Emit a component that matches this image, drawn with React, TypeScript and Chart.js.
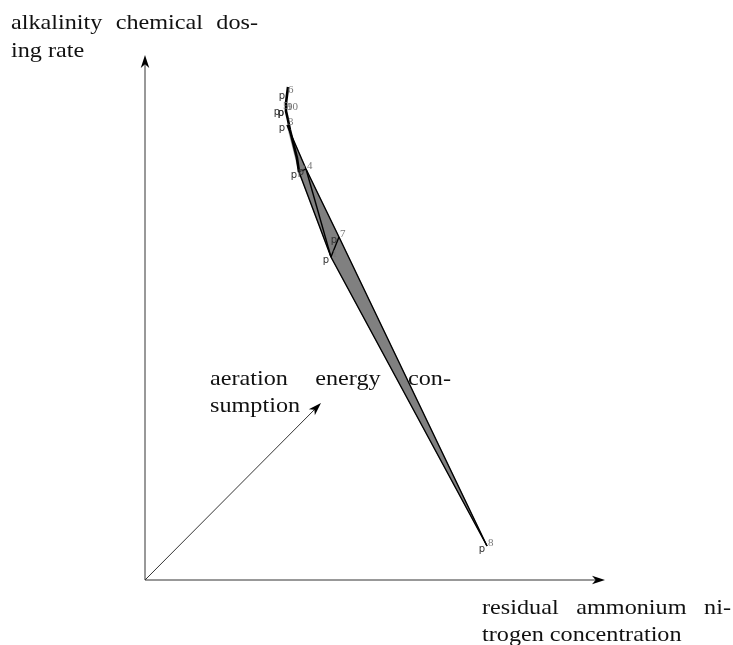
import React, { useEffect, useRef } from "react";
import { Chart, registerables } from "chart.js";

Chart.register(...registerables);

// Pareto points (projected coordinates, 0..100 on each visible axis)
const POINT_LABELS = ["6", "5", "10", "9", "3", "2", "4", "7", "1", "8"];
const POINT_X = [30.87, 29.78, 30.65, 30.65, 30.87, 33.48, 35.0, 42.17, 40.43, 74.35];
const POINT_Y = [92.76, 89.71, 89.52, 89.52, 86.67, 77.71, 78.29, 65.33, 61.52, 6.48];

// thick upper part of the front
const TOP_CURVE_X = [31.09, 30.87, 30.65, 30.65, 31.09, 31.52, 32.17, 33.04, 33.48];
const TOP_CURVE_Y = [93.9, 92.38, 90.86, 89.33, 87.62, 85.71, 83.43, 80.38, 77.71];

// surface facets and edges (by point label)
const FACETS = [
  ["3", "2", "4"],
  ["2", "4", "1"],
  ["4", "1", "7"],
  ["1", "7", "8"],
];
const LEFT_EDGE = ["2", "1", "8"];
const RIGHT_EDGE = ["3", "4", "7", "8"];
const INNER_EDGES = [
  ["2", "4"],
  ["4", "1"],
  ["1", "7"],
];

// axis arrow tips (origin is 0,0)
const AXIS_TIP_X = [100, 0, 38.26];
const AXIS_TIP_Y = [0, 100, 33.71];

const Y_TITLE = [["alkalinity", "chemical", "dos-"], ["ing rate"]];
const Z_TITLE = [["aeration", "energy", "con-"], ["sumption"]];
const X_TITLE = [["residual", "ammonium", "ni-"], ["trogen concentration"]];

const STRETCH = 1.1;

const pt = (label: string) => {
  const i = POINT_LABELS.indexOf(label);
  return { x: POINT_X[i], y: POINT_Y[i] };
};

const lineDs = (data: { x: number; y: number }[], width: number) => ({
  data,
  showLine: true,
  borderColor: "#000",
  borderWidth: width,
  pointRadius: 0,
  fill: false,
  clip: false as any,
  tension: 0,
});

const surfacePlugin = {
  id: "surface",
  beforeDatasetsDraw(chart: any) {
    const { ctx, scales } = chart;
    const sx = (v: number) => scales.x.getPixelForValue(v);
    const sy = (v: number) => scales.y.getPixelForValue(v);
    ctx.save();
    ctx.fillStyle = "#808080";
    ctx.strokeStyle = "#808080";
    ctx.lineWidth = 0.6;
    FACETS.forEach((f) => {
      ctx.beginPath();
      f.forEach((l, k) => {
        const p = pt(l);
        if (k === 0) ctx.moveTo(sx(p.x), sy(p.y));
        else ctx.lineTo(sx(p.x), sy(p.y));
      });
      ctx.closePath();
      ctx.fill();
      ctx.stroke();
    });
    ctx.restore();
  },
};

function arrowHead(ctx: CanvasRenderingContext2D, x0: number, y0: number, x1: number, y1: number) {
  const dx = x1 - x0, dy = y1 - y0;
  const len = Math.hypot(dx, dy);
  const ux = dx / len, uy = dy / len;
  const nx = -uy, ny = ux;
  const L = 13, W = 8.5;
  ctx.beginPath();
  ctx.moveTo(x1, y1);
  ctx.lineTo(x1 - ux * L + nx * W / 2, y1 - uy * L + ny * W / 2);
  ctx.lineTo(x1 - ux * L * 0.72, y1 - uy * L * 0.72);
  ctx.lineTo(x1 - ux * L - nx * W / 2, y1 - uy * L - ny * W / 2);
  ctx.closePath();
  ctx.fill();
}

function stretchedText(ctx: CanvasRenderingContext2D, w: string, x: number, base: number) {
  ctx.save();
  ctx.translate(x, base);
  ctx.scale(STRETCH, 1);
  ctx.fillText(w, 0, 0);
  ctx.restore();
}

function drawJustified(ctx: CanvasRenderingContext2D, words: string[], left: number, right: number, base: number, justify: boolean) {
  if (!justify || words.length === 1) {
    stretchedText(ctx, words.join(" "), left, base);
    return;
  }
  const widths = words.map((w) => ctx.measureText(w).width * STRETCH);
  const total = widths.reduce((a, b) => a + b, 0);
  const gap = (right - left - total) / (words.length - 1);
  let x = left;
  words.forEach((w, i) => {
    stretchedText(ctx, w, x, base);
    x += widths[i] + gap;
  });
}

const overlayPlugin = {
  id: "overlay",
  afterDraw(chart: any) {
    const { ctx, scales } = chart;
    const sx = (v: number) => scales.x.getPixelForValue(v);
    const sy = (v: number) => scales.y.getPixelForValue(v);
    ctx.save();
    // axes
    const ox = sx(0), oy = sy(0);
    ctx.strokeStyle = "#333";
    ctx.fillStyle = "#000";
    ctx.lineWidth = 1;
    AXIS_TIP_X.forEach((tx, i) => {
      const x1 = sx(tx), y1 = sy(AXIS_TIP_Y[i]);
      const len = Math.hypot(x1 - ox, y1 - oy);
      const ex = x1 - ((x1 - ox) / len) * 7, ey = y1 - ((y1 - oy) / len) * 7;
      ctx.beginPath();
      ctx.moveTo(ox, oy);
      ctx.lineTo(ex, ey);
      ctx.stroke();
      arrowHead(ctx, ox, oy, x1, y1);
    });

    // point labels
    POINT_LABELS.forEach((l, i) => {
      const px = sx(POINT_X[i]), py = sy(POINT_Y[i]);
      ctx.fillStyle = "#333";
      ctx.font = "10px 'DejaVu Sans'";
      ctx.textAlign = "center";
      ctx.textBaseline = "middle";
      ctx.fillText("p", px - 5, py + 3);
      ctx.fillStyle = "#777";
      ctx.font = "11px 'Liberation Serif'";
      ctx.textAlign = "left";
      ctx.fillText(l, px + 1, py - 3);
    });

    // titles
    ctx.fillStyle = "#111";
    ctx.font = "22px 'Liberation Serif'";
    ctx.textAlign = "left";
    ctx.textBaseline = "alphabetic";
    drawJustified(ctx, Y_TITLE[0], 11, 258, 29, true);
    drawJustified(ctx, Y_TITLE[1], 11, 258, 57, false);
    drawJustified(ctx, Z_TITLE[0], 210, 451, 385, true);
    drawJustified(ctx, Z_TITLE[1], 210, 451, 412, false);
    drawJustified(ctx, X_TITLE[0], 482, 731, 614, true);
    drawJustified(ctx, X_TITLE[1], 482, 731, 641, false);
    ctx.restore();
  },
};

export default function App() {
  const ref = useRef<HTMLCanvasElement | null>(null);
  useEffect(() => {
    if (!ref.current) return;
    const topCurve = TOP_CURVE_X.map((x, i) => ({ x, y: TOP_CURVE_Y[i] }));
    const datasets: any[] = [
      lineDs(topCurve, 2.6),
      lineDs(LEFT_EDGE.map(pt), 1.4),
      lineDs(RIGHT_EDGE.map(pt), 1.4),
      ...INNER_EDGES.map((e) => lineDs(e.map(pt), 1.4)),
    ];
    const chart = new Chart(ref.current, {
      type: "scatter",
      data: { datasets },
      options: {
        animation: false,
        responsive: false,
        layout: { padding: { left: 145, right: 128, top: 55, bottom: 65 } },
        plugins: { legend: { display: false }, tooltip: { enabled: false } },
        scales: {
          x: { type: "linear", min: 0, max: 100, display: false },
          y: { type: "linear", min: 0, max: 100, display: false },
        },
      },
      plugins: [surfacePlugin, overlayPlugin],
    });
    return () => chart.destroy();
  }, []);
  return (
    <div style={{ position: "absolute", left: 0, top: 0, width: 733, height: 645, background: "#fff" }}>
      <canvas ref={ref} width={733} height={645} style={{ display: "block" }} />
    </div>
  );
}
